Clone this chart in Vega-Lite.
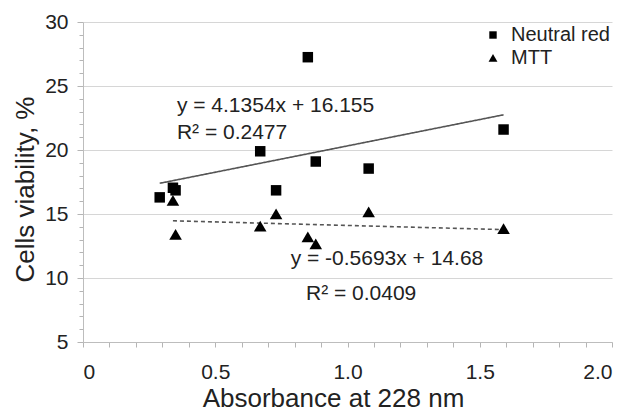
{
  "$schema": "https://vega.github.io/schema/vega-lite/v6.json",
  "width": 529,
  "height": 320,
  "autosize": {"type": "none"},
  "padding": {"left": 83, "top": 22, "right": 10, "bottom": 69},
  "background": "white",
  "config": {
    "view": {"stroke": null},
    "font": "Liberation Sans",
    "axis": {
      "labelFont": "Liberation Sans",
      "titleFont": "Liberation Sans",
      "labelColor": "#222",
      "titleColor": "#222",
      "titleFontWeight": "normal",
      "domainColor": "#bdbdbd",
      "tickColor": "#b5b5b5",
      "labelOverlap": false
    },
    "legend": {"labelFont": "Liberation Sans"}
  },
  "resolve": {"axis": {"x": "independent", "y": "independent"}},
  "datasets": {
    "points": [
      {"series": "Neutral red", "absorbance": 0.29, "viability": 16.3},
      {"series": "Neutral red", "absorbance": 0.34, "viability": 17.05},
      {"series": "Neutral red", "absorbance": 0.35, "viability": 16.85},
      {"series": "Neutral red", "absorbance": 0.67, "viability": 19.9},
      {"series": "Neutral red", "absorbance": 0.73, "viability": 16.85},
      {"series": "Neutral red", "absorbance": 0.85, "viability": 27.25},
      {"series": "Neutral red", "absorbance": 0.88, "viability": 19.1},
      {"series": "Neutral red", "absorbance": 1.08, "viability": 18.55},
      {"series": "Neutral red", "absorbance": 1.59, "viability": 21.6},
      {"series": "MTT", "absorbance": 0.34, "viability": 16.05},
      {"series": "MTT", "absorbance": 0.35, "viability": 13.4},
      {"series": "MTT", "absorbance": 0.67, "viability": 14.05},
      {"series": "MTT", "absorbance": 0.73, "viability": 15.0},
      {"series": "MTT", "absorbance": 0.85, "viability": 13.2},
      {"series": "MTT", "absorbance": 0.88, "viability": 12.65},
      {"series": "MTT", "absorbance": 1.08, "viability": 15.15},
      {"series": "MTT", "absorbance": 1.59, "viability": 13.85}
    ],
    "trends": [
      {"fit": "Neutral red fit", "absorbance": 0.29, "viability": 17.4},
      {"fit": "Neutral red fit", "absorbance": 1.59, "viability": 22.75},
      {"fit": "MTT fit", "absorbance": 0.34, "viability": 14.47},
      {"fit": "MTT fit", "absorbance": 1.59, "viability": 13.78}
    ],
    "labels": [
      {"label": "y = 4.1354x + 16.155", "lx": 0.355, "ly": 22.97},
      {"label": "R² = 0.2477", "lx": 0.355, "ly": 20.84},
      {"label": "y = -0.5693x + 14.68", "lx": 0.785, "ly": 11.0},
      {"label": "R² = 0.0409", "lx": 0.843, "ly": 8.26}
    ]
  },
  "layer": [
    {
      "data": {"name": "trends"},
      "mark": {"type": "line", "color": "#555", "strokeWidth": 1.6},
      "encoding": {
        "x": {
          "field": "absorbance",
          "type": "quantitative",
          "scale": {"domain": [0, 2], "nice": false, "zero": false},
          "axis": null
        },
        "y": {
          "field": "viability",
          "type": "quantitative",
          "scale": {"domain": [5, 30], "nice": false, "zero": false},
          "axis": {
            "orient": "left",
            "title": null,
            "values": [6, 7, 8, 9, 11, 12, 13, 14, 16, 17, 18, 19, 21, 22, 23, 24, 26, 27, 28, 29],
            "labels": false,
            "grid": false,
            "domain": false,
            "tickSize": 4
          }
        },
        "detail": {"field": "fit"},
        "strokeDash": {
          "field": "fit",
          "type": "nominal",
          "scale": {"domain": ["Neutral red fit", "MTT fit"], "range": [[1, 0], [4, 3]]},
          "legend": null
        }
      }
    },
    {
      "data": {"name": "points"},
      "mark": {"type": "point", "filled": true, "color": "black", "opacity": 1, "size": 110},
      "encoding": {
        "x": {
          "field": "absorbance",
          "type": "quantitative",
          "axis": {
            "orient": "bottom",
            "title": "Absorbance at 228 nm",
            "titleFontSize": 26,
            "titleX": 250,
            "titleY": 64,
            "titleAlign": "center",
            "titleBaseline": "alphabetic",
            "values": [0, 0.1, 0.2, 0.3, 0.4, 0.5, 0.6, 0.7, 0.8, 0.9, 1.0, 1.1, 1.2, 1.3, 1.4, 1.5, 1.6, 1.7, 1.8, 1.9, 2.0],
            "labelExpr": "abs(datum.value * 2 - round(datum.value * 2)) < 1e-6 ? (datum.value == 0 ? '0' : format(datum.value, '.1f')) : ''",
            "labelFontSize": 21,
            "labelPadding": 14,
            "labelOverlap": false,
            "tickSize": 5,
            "grid": false
          }
        },
        "y": {
          "field": "viability",
          "type": "quantitative",
          "axis": {
            "orient": "left",
            "title": "Cells viability, %",
            "titleFontSize": 26,
            "titleX": -50,
            "titleY": 167,
            "titleAlign": "center",
            "titleBaseline": "alphabetic",
            "values": [5, 10, 15, 20, 25, 30],
            "labelFontSize": 21,
            "labelPadding": 9,
            "labelOverlap": false,
            "tickSize": 6,
            "grid": true,
            "gridColor": "#d6d6d6"
          }
        },
        "shape": {
          "field": "series",
          "type": "nominal",
          "scale": {"domain": ["Neutral red", "MTT"], "range": ["M-1,-1H1V1H-1Z", "M0,-1.05L1.2,1L-1.2,1Z"]},
          "legend": {
            "title": null,
            "orient": "none",
            "legendX": 400,
            "legendY": 3,
            "padding": 0,
            "symbolSize": 55,
            "symbolFillColor": "black",
            "symbolStrokeColor": "black",
            "labelFontSize": 20,
            "labelColor": "#222",
            "labelOffset": 8,
            "rowPadding": 3
          }
        }
      }
    },
    {
      "data": {"name": "labels"},
      "mark": {"type": "text", "fontSize": 21, "align": "left", "baseline": "alphabetic", "color": "#222", "font": "Liberation Sans"},
      "encoding": {
        "x": {"field": "lx", "type": "quantitative", "axis": null},
        "y": {"field": "ly", "type": "quantitative", "axis": null},
        "text": {"field": "label"}
      }
    }
  ]
}
